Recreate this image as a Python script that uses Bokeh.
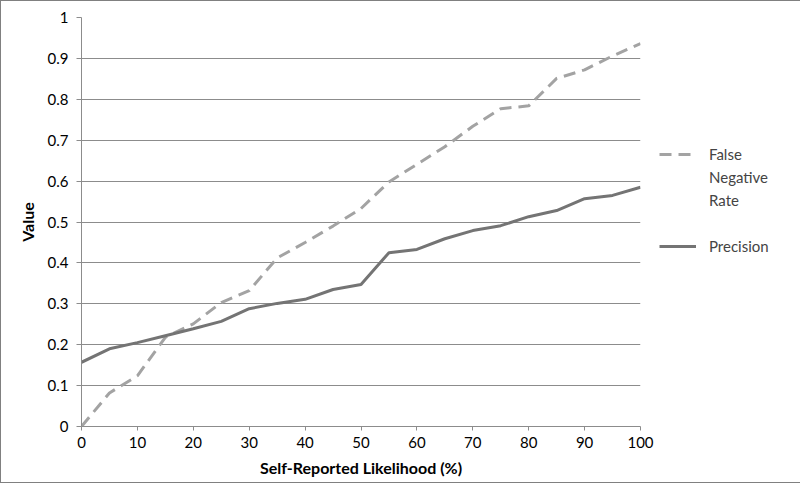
from bokeh.plotting import figure
from bokeh.models import (FixedTicker, CustomJSTickFormatter, Legend, LegendItem, Range1d)
from bokeh.embed import file_html
from bokeh.resources import INLINE

x_values = [0, 5, 10, 15, 20, 25, 30, 35, 40, 45, 50, 55, 60, 65, 70, 75, 80, 85, 90, 95, 100]
false_negative_rate = [0.0, 0.082, 0.124, 0.218, 0.251, 0.303, 0.332, 0.412, 0.45, 0.49, 0.533,
                       0.598, 0.641, 0.684, 0.734, 0.777, 0.784, 0.851, 0.872, 0.906, 0.936]
precision = [0.157, 0.19, 0.205, 0.222, 0.239, 0.257, 0.288, 0.301, 0.311, 0.335, 0.347,
             0.425, 0.433, 0.459, 0.479, 0.491, 0.513, 0.528, 0.557, 0.565, 0.585]
x_ticks = [0, 10, 20, 30, 40, 50, 60, 70, 80, 90, 100]
y_ticks = [0, 0.1, 0.2, 0.3, 0.4, 0.5, 0.6, 0.7, 0.8, 0.9, 1.0]
legend_lines = ["False", "Negative", "Rate", " ", "Precision"]

FONT = "Lato"
GRID = "#8c8c8c"

p = figure(frame_width=559, frame_height=409, output_backend="svg", toolbar_location=None,
           x_range=Range1d(0, 100), y_range=Range1d(0, 1),
           min_border_left=80, min_border_top=16, min_border_bottom=56, min_border_right=140,
           styles={"border": "1px solid #808080"})
p.outline_line_color = None
p.background_fill_color = "white"
p.border_fill_color = "white"

fnr = p.line(x_values, false_negative_rate, line_color="#a3a3a3", line_width=3, line_dash="12 7")
prc = p.line(x_values, precision, line_color="#747474", line_width=3)
blank = p.line([], [], line_alpha=0)

p.xaxis.ticker = FixedTicker(ticks=x_ticks)
p.yaxis.ticker = FixedTicker(ticks=y_ticks)
p.yaxis.formatter = CustomJSTickFormatter(code="return String(Math.round(tick*10)/10)")

p.xgrid.visible = False
p.ygrid.grid_line_color = GRID
p.ygrid.grid_line_width = 1

for ax in (p.xaxis[0], p.yaxis[0]):
    ax.axis_line_color = GRID
    ax.major_tick_line_color = GRID
    ax.minor_tick_line_color = None
    ax.major_label_text_font = FONT
    ax.major_label_text_font_size = "15px"
    ax.major_label_text_color = "#000000"
    ax.axis_label_text_font = FONT
    ax.axis_label_text_font_size = "16px"
    ax.axis_label_text_font_style = "bold"
    ax.axis_label_text_color = "#000000"

p.xaxis.major_tick_in = 0
p.xaxis.major_tick_out = 4
p.yaxis.major_tick_in = 0
p.yaxis.major_tick_out = 5
p.xaxis.major_label_standoff = 6
p.yaxis.major_label_standoff = 8
p.xaxis.axis_label = "Self-Reported Likelihood (%)"
p.yaxis.axis_label = "Value"
p.xaxis.axis_label_standoff = 7
p.yaxis.axis_label_standoff = 8

items = [LegendItem(label=legend_lines[0], renderers=[fnr]),
         LegendItem(label=legend_lines[1], renderers=[blank]),
         LegendItem(label=legend_lines[2], renderers=[blank]),
         LegendItem(label=legend_lines[3], renderers=[blank]),
         LegendItem(label=legend_lines[4], renderers=[prc])]
legend = Legend(items=items, location="top_left", orientation="vertical",
                border_line_color=None, background_fill_alpha=0,
                label_text_font=FONT, label_text_font_size="15px",
                glyph_width=37, glyph_height=20, label_height=20,
                label_standoff=13, spacing=3,
                title=" ", title_text_font_size="14px", title_standoff=92,
                padding=0, margin=19)
p.add_layout(legend, "right")

open("out.html", "w").write(file_html(p, INLINE))
